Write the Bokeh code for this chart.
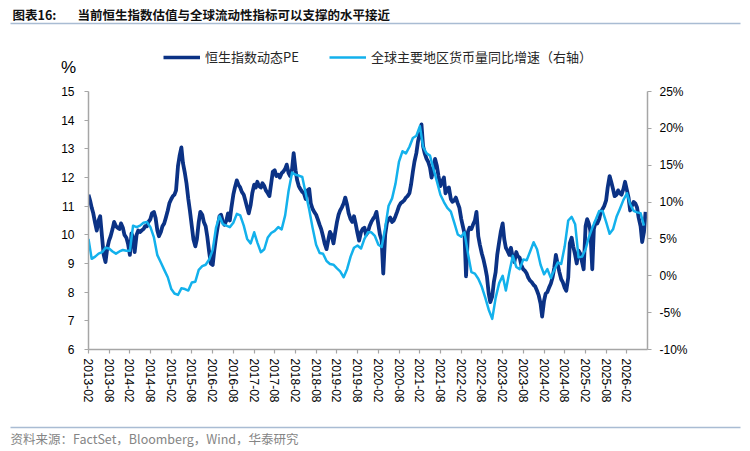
import pandas as pd
from bokeh.plotting import figure
from bokeh.layouts import column
from bokeh.models import (Range1d, LinearAxis, FixedTicker, PrintfTickFormatter, Plot,
                          DatetimeTickFormatter, Label, BoxAnnotation, Legend, LegendItem)
from bokeh.embed import file_html
from bokeh.resources import INLINE

# ---------------- data ----------------
pe_start = "2013-02-01"   # semi-monthly readings of Hang Seng Index forward PE
pe_values = [
    11.40, 11.20, 10.95, 10.75, 10.40, 10.15, 10.50, 10.65, 9.90, 9.30, 9.05, 9.50,
    9.80, 9.95, 10.20, 10.45, 10.30, 10.25, 10.20, 10.40, 10.25, 10.00, 9.90, 9.70,
    9.30, 10.05, 9.90, 9.40, 10.00, 10.15, 10.10, 10.15, 10.20, 10.30, 10.30, 10.45,
    10.55, 10.75, 10.80, 10.60, 10.15, 9.95, 10.10, 10.30, 10.40, 10.60, 10.85, 11.10,
    11.25, 11.35, 11.40, 11.55, 12.40, 12.75, 13.05, 12.50, 12.15, 11.80, 11.25, 10.85,
    10.30, 9.85, 9.60, 9.85, 10.45, 10.80, 10.70, 10.45, 10.30, 9.95, 9.40, 9.00,
    8.95, 9.45, 9.90, 10.25, 10.65, 10.70, 10.45, 10.35, 10.50, 10.75, 10.50, 10.95,
    11.40, 11.65, 11.90, 11.75, 11.65, 11.50, 11.40, 11.20, 10.95, 10.75, 11.05, 11.45,
    11.75, 11.65, 11.85, 11.70, 11.65, 11.80, 11.70, 11.55, 11.45, 11.35, 11.80, 12.20,
    12.25, 12.05, 12.10, 12.00, 12.15, 12.20, 12.30, 12.45, 12.15, 12.05, 12.30, 12.85,
    12.25, 11.90, 11.70, 11.60, 11.50, 11.45, 11.25, 11.55, 11.60, 11.10, 10.90, 10.80,
    10.70, 10.55, 10.35, 10.20, 9.95, 9.70, 9.50, 9.80, 10.10, 10.00, 9.70, 10.05,
    10.45, 10.70, 10.85, 10.95, 11.10, 11.30, 11.05, 10.75, 10.55, 10.45, 10.65, 10.40,
    10.05, 9.80, 10.10, 10.20, 10.25, 10.00, 10.10, 10.30, 10.45, 10.55, 10.65, 10.80,
    10.35, 10.00, 9.80, 8.65, 10.00, 10.40, 10.55, 10.60, 10.45, 10.50, 10.65, 10.80,
    11.00, 11.10, 11.15, 11.20, 11.30, 11.35, 11.45, 11.75, 12.20, 12.55, 12.85, 13.25,
    13.55, 13.85, 13.10, 12.85, 12.65, 12.55, 12.35, 12.00, 12.30, 12.65, 12.40, 12.05,
    11.70, 11.85, 12.00, 11.45, 11.60, 11.65, 11.25, 11.15, 11.20, 11.30, 11.10, 10.95,
    10.55, 10.30, 10.05, 8.55, 10.10, 10.25, 10.20, 10.35, 10.50, 10.80, 9.95, 9.65,
    9.35, 9.15, 8.85, 8.55, 7.95, 7.65, 7.85, 8.35, 8.70, 9.30, 9.75, 10.10,
    10.40, 9.85, 9.55, 9.45, 9.30, 9.55, 9.20, 9.05, 9.40, 9.25, 9.20, 8.95,
    8.80, 8.75, 8.65, 8.50, 8.40, 8.35, 8.25, 8.20, 8.05, 7.90, 7.60, 7.15,
    7.70, 7.95, 8.00, 8.15, 8.30, 8.50, 8.85, 9.30, 8.95, 8.70, 8.45, 8.35,
    8.15, 8.05, 8.50, 9.70, 9.90, 9.60, 9.30, 9.00, 9.45, 9.35, 9.05, 8.80,
    10.30, 10.55, 10.40, 10.15, 8.80, 10.20, 10.45, 10.40, 10.55, 10.80, 10.90, 11.00,
    11.20, 11.65, 12.05, 11.85, 11.60, 11.35, 11.40, 11.55, 11.45, 11.40, 11.60, 11.85,
    11.55, 11.30, 10.85, 11.00, 11.15, 11.10, 10.95, 10.60, 10.30, 9.75, 10.10, 10.80,
]

liq_start = "2013-02-01"  # monthly YoY growth of global major-region money supply, %
liq_values = [
    5.0, 2.3, 2.6, 3.0, 3.2, 3.8, 3.7, 3.3, 3.0, 3.3, 3.5, 3.4,
    3.4, 6.8, 6.6, 6.8, 7.2, 7.3, 6.6, 5.2, 2.8, 1.8, 0.8, -0.2,
    -1.8, -2.4, -2.6, -1.7, -1.8, -2.0, -0.9, -0.8, 0.8, 1.3, 1.5, 2.2,
    3.5, 6.5, 8.1, 7.0, 6.8, 6.6, 7.2, 8.4, 8.2, 6.8, 5.0, 4.4,
    5.9, 4.5, 3.2, 3.6, 5.2, 5.8, 6.1, 6.6, 6.3, 8.2, 11.5, 14.0,
    13.7, 13.6, 13.4, 11.2, 9.0, 6.5, 4.2, 3.1, 3.0, 2.0, 1.6, 1.5,
    1.0, 0.6, -0.2, 0.9, 2.6, 3.8, 4.1, 3.7, 5.0, 5.9, 5.9, 5.4,
    4.2, 3.9, 6.5, 9.5, 10.5, 12.5, 15.5, 16.9, 16.6, 17.5, 18.7, 19.0,
    20.3, 17.5, 16.6, 16.3, 14.5, 12.8, 11.0, 10.0, 9.2, 8.7, 7.2, 5.6,
    5.3, 5.9, 3.0, 0.5, 0.3, -0.4, -1.5, -3.0, -4.6, -5.85, -3.0, -1.0,
    0.0, -2.0, 0.5, 2.7, 1.2, 0.9, 2.2, 2.1, 3.3, 4.55, 3.6, 1.5,
    0.2, 0.9, -0.3, 0.8, 1.8, 1.6, 4.0, 7.5, 8.0, 7.0, 2.5, 2.6,
    3.6, 5.2, 6.5, 7.6, 8.8, 8.8, 7.3, 5.7, 6.3, 8.0, 9.1, 10.3,
    11.2, 9.7, 8.8, 8.6, 8.5, 6.8,
]

x_tick_labels = ["2013-02", "2013-08", "2014-02", "2014-08", "2015-02", "2015-08",
                 "2016-02", "2016-08", "2017-02", "2017-08", "2018-02", "2018-08",
                 "2019-02", "2019-08", "2020-02", "2020-08", "2021-02", "2021-08",
                 "2022-02", "2022-08", "2023-02", "2023-08", "2024-02", "2024-08",
                 "2025-02", "2025-08", "2026-02"]
x_end = "2026-08"
left_ticks = [6, 7, 8, 9, 10, 11, 12, 13, 14, 15]
right_ticks = [-10, -5, 0, 5, 10, 15, 20, 25]

title_prefix = "图表16:"
title_text = "当前恒生指数估值与全球流动性指标可以支撑的水平接近"
legend_labels = ["恒生指数动态PE", "全球主要地区货币量同比增速（右轴）"]
unit_text = "%"
source_text = "资料来源：FactSet，Bloomberg，Wind，华泰研究"

# ---------------- styling ----------------
DARK = "#0B3285"
LIGHT = "#13B1EC"
AXIS = "#A6A6A6"
RULE = "#A9BCD3"
FONT = "Liberation Sans"
CJK = "Noto Sans CJK SC"
W = 750
HEAD_H = 80
FOOT_H = 31
MAIN_H = 451 - HEAD_H - FOOT_H
HAS_FRAME_ALIGN = "frame_align" in Plot.properties()


def no_align(f):
    if HAS_FRAME_ALIGN:
        f.frame_align = False
    return f


def blank_panel(h):
    f = figure(width=W, height=h, x_range=Range1d(0, W), y_range=Range1d(h, 0),
               output_backend="svg", toolbar_location=None,
               x_axis_location=None, y_axis_location=None,
               min_border_left=0, min_border_right=0, min_border_top=0, min_border_bottom=0)
    f.grid.visible = False
    f.outline_line_color = None
    f.background_fill_color = "white"
    f.border_fill_color = "white"
    return no_align(f)


# ---------------- header: title, rule, legend, unit ----------------
head = blank_panel(HEAD_H)
head.add_layout(Label(x=12, y=14, text=title_prefix, text_font=CJK, text_font_size="12.5px",
                      text_font_style="bold", text_color="#111111",
                      text_baseline="middle", text_align="left"))
head.add_layout(Label(x=77, y=14, text=title_text, text_font=CJK, text_font_size="12.5px",
                      text_font_style="bold", text_color="#111111",
                      text_baseline="middle", text_align="left"))
head.add_layout(BoxAnnotation(left=10, right=740, top=22.3, bottom=23.8,
                              fill_color=RULE, fill_alpha=1, line_color=None))
head.add_layout(Label(x=68, y=67, text=unit_text, text_font=FONT, text_font_size="17px",
                      text_color="#000000", text_baseline="middle", text_align="center"))
# legend keys: renderers that carry the series styles (one undrawable point each)
k_pe = head.line(x=[0], y=[float("nan")], line_color=DARK, line_width=3.5)
k_liq = head.line(x=[0], y=[float("nan")], line_color=LIGHT, line_width=2.5)
legend = Legend(items=[LegendItem(label=legend_labels[0], renderers=[k_pe]),
                       LegendItem(label=legend_labels[1], renderers=[k_liq])],
                orientation="horizontal", location=(163, HEAD_H - 66),
                glyph_width=37, glyph_height=16, label_height=16, label_standoff=5,
                spacing=30, padding=0, margin=0, border_line_color=None,
                background_fill_alpha=0, label_text_font=CJK,
                label_text_font_size="13px", label_text_color="#262626")
head.add_layout(legend)

# ---------------- main chart ----------------
pe_dates = pd.date_range(pe_start, periods=len(pe_values), freq="SMS")
liq_dates = pd.date_range(liq_start, periods=len(liq_values), freq="MS")
tick_ms = [pd.Timestamp(s + "-01").value // 10**6 for s in x_tick_labels]

p = figure(width=W, height=MAIN_H, x_axis_type="datetime",
           x_range=Range1d(pd.Timestamp(x_tick_labels[0] + "-01"), pd.Timestamp(x_end + "-01")),
           y_range=Range1d(left_ticks[0], left_ticks[-1]),
           output_backend="svg", toolbar_location=None,
           min_border_left=88, min_border_right=W - 647,
           min_border_top=91 - HEAD_H, min_border_bottom=(451 - FOOT_H) - 349)
no_align(p)
p.extra_y_ranges = {"right": Range1d(right_ticks[0], right_ticks[-1])}
p.grid.visible = False
p.outline_line_color = None
p.background_fill_color = "white"
p.border_fill_color = "white"

p.xaxis.ticker = FixedTicker(ticks=tick_ms)
fmt = "%Y-%m"
p.xaxis.formatter = DatetimeTickFormatter(milliseconds=fmt, seconds=fmt, minsec=fmt, minutes=fmt,
                                          hourmin=fmt, hours=fmt, days=fmt, months=fmt, years=fmt)
p.xaxis.major_label_orientation = "vertical"
p.xaxis.major_label_standoff = 5

p.yaxis.ticker = FixedTicker(ticks=left_ticks)
p.yaxis.major_label_standoff = 10

ax_r = LinearAxis(y_range_name="right", ticker=FixedTicker(ticks=right_ticks),
                  formatter=PrintfTickFormatter(format="%d%%"))
ax_r.major_label_standoff = 8
p.add_layout(ax_r, "right")

for ax in p.axis:
    ax.axis_line_color = AXIS
    ax.axis_line_width = 1.5
    ax.major_tick_line_color = AXIS
    ax.major_tick_line_width = 1.2
    ax.major_tick_out = 4
    ax.major_tick_in = 0
    ax.minor_tick_line_color = None
    ax.major_label_text_font = FONT
    ax.major_label_text_font_size = "12px"
    ax.major_label_text_color = "#000000"

p.line(pe_dates, pe_values, line_color=DARK, line_width=3.8, line_join="round")
p.line(liq_dates, liq_values, y_range_name="right", line_color=LIGHT, line_width=2.5,
       line_join="round")

# ---------------- footer: rule + source ----------------
foot = blank_panel(FOOT_H)
foot.add_layout(BoxAnnotation(left=10, right=740, top=6.3, bottom=7.8,
                              fill_color=RULE, fill_alpha=1, line_color=None))
foot.add_layout(Label(x=10, y=18, text=source_text, text_font=CJK, text_font_size="12.5px",
                      text_color="#858585", text_baseline="middle", text_align="left"))

layout = column(head, p, foot, spacing=0)
open("out.html", "w").write(file_html(layout, INLINE))
